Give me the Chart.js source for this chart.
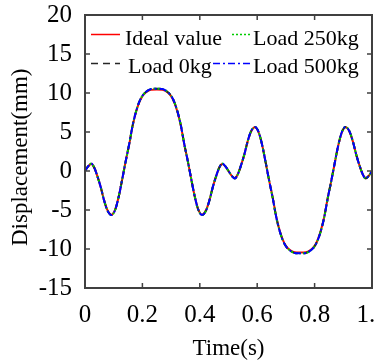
<!DOCTYPE html>
<html>
<head>
<meta charset="utf-8">
<script src="https://cdn.jsdelivr.net/npm/chart.js@4.4.1/dist/chart.umd.min.js"></script>
<style>
  html, body { margin: 0; padding: 0; background: #fff; }
  #wrap { width: 374px; height: 364px; }
</style>
</head>
<body>
<div id="wrap"><canvas id="dispChart"></canvas></div>
<script>
// Tempo (s)
const times = [0, 0.01, 0.022, 0.032, 0.043, 0.055, 0.066, 0.078, 0.092, 0.105,
  0.118, 0.13, 0.142, 0.154, 0.166, 0.178, 0.189, 0.2, 0.213, 0.23,
  0.25, 0.27, 0.287, 0.3, 0.311, 0.322, 0.334, 0.346, 0.358, 0.37,
  0.382, 0.395, 0.408, 0.422, 0.434, 0.445, 0.457, 0.468, 0.478, 0.49,
  0.5, 0.51, 0.522, 0.532, 0.543, 0.555, 0.566, 0.578, 0.592, 0.605,
  0.618, 0.63, 0.642, 0.654, 0.666, 0.678, 0.689, 0.7, 0.713, 0.73,
  0.75, 0.77, 0.787, 0.8, 0.811, 0.822, 0.834, 0.846, 0.858, 0.87,
  0.882, 0.895, 0.908, 0.922, 0.934, 0.945, 0.957, 0.968, 0.978, 0.99, 1];

// Deslocamento (mm)
const idealValue = [0, 0.55, 0.9, 0.45, -0.65, -2.1, -3.7, -5.0, -5.6, -4.95,
  -3.2, -1.0, 1.3, 3.4, 5.8, 7.6, 8.8, 9.6, 10.1, 10.4,
  10.45, 10.4, 10.1, 9.6, 8.8, 7.6, 5.8, 3.4, 1.3, -1.0,
  -3.2, -4.95, -5.6, -5.0, -3.7, -2.1, -0.65, 0.45, 0.9, 0.55,
  0, -0.55, -0.9, -0.45, 0.65, 2.1, 3.7, 5.0, 5.6, 4.95,
  3.2, 1.0, -1.3, -3.4, -5.8, -7.6, -8.8, -9.6, -10.1, -10.4,
  -10.45, -10.4, -10.1, -9.6, -8.8, -7.6, -5.8, -3.4, -1.3, 1.0,
  3.2, 4.95, 5.6, 5.0, 3.7, 2.1, 0.65, -0.45, -0.9, -0.55, 0];

const load0kg = [0, 0.55, 0.95, 0.45, -0.65, -2.1, -3.7, -5.05, -5.65, -5.0,
  -3.2, -1.0, 1.3, 3.45, 5.85, 7.65, 8.85, 9.65, 10.15, 10.5,
  10.55, 10.5, 10.15, 9.65, 8.85, 7.65, 5.85, 3.45, 1.3, -1.0,
  -3.2, -5.0, -5.65, -5.05, -3.7, -2.1, -0.65, 0.45, 0.95, 0.55,
  0, -0.55, -0.95, -0.45, 0.65, 2.1, 3.7, 5.05, 5.65, 5.0,
  3.2, 1.0, -1.3, -3.45, -5.85, -7.65, -8.85, -9.65, -10.15, -10.5,
  -10.55, -10.5, -10.15, -9.65, -8.85, -7.65, -5.85, -3.45, -1.3, 1.0,
  3.2, 5.0, 5.65, 5.05, 3.7, 2.1, 0.65, -0.45, -0.95, -0.55, 0];

const load250kg = [0, 0.55, 0.95, 0.45, -0.65, -2.1, -3.7, -5.05, -5.65, -5.0,
  -3.2, -1.0, 1.3, 3.45, 5.85, 7.65, 8.85, 9.65, 10.15, 10.5,
  10.55, 10.5, 10.15, 9.65, 8.85, 7.65, 5.85, 3.45, 1.3, -1.0,
  -3.2, -5.0, -5.65, -5.05, -3.7, -2.1, -0.65, 0.45, 0.95, 0.55,
  0, -0.55, -0.95, -0.45, 0.65, 2.1, 3.7, 5.05, 5.65, 5.0,
  3.2, 1.0, -1.3, -3.45, -5.85, -7.65, -8.85, -9.65, -10.15, -10.5,
  -10.55, -10.5, -10.15, -9.65, -8.85, -7.65, -5.85, -3.45, -1.3, 1.0,
  3.2, 5.0, 5.65, 5.05, 3.7, 2.1, 0.65, -0.45, -0.95, -0.55, 0];

const load500kg = [0, 0.55, 0.95, 0.45, -0.65, -2.1, -3.7, -5.05, -5.65, -5.0,
  -3.2, -1.0, 1.3, 3.45, 5.85, 7.65, 8.85, 9.65, 10.15, 10.5,
  10.55, 10.5, 10.15, 9.65, 8.85, 7.65, 5.85, 3.45, 1.3, -1.0,
  -3.2, -5.0, -5.65, -5.05, -3.7, -2.1, -0.65, 0.45, 0.95, 0.55,
  0, -0.55, -0.95, -0.45, 0.65, 2.1, 3.7, 5.05, 5.65, 5.0,
  3.2, 1.0, -1.3, -3.45, -5.85, -7.65, -8.85, -9.65, -10.15, -10.5,
  -10.55, -10.5, -10.15, -9.65, -8.85, -7.65, -5.85, -3.45, -1.3, 1.0,
  3.2, 5.0, 5.65, 5.05, 3.7, 2.1, 0.65, -0.45, -0.95, -0.55, 0];

const xTicks = [0, 0.2, 0.4, 0.6, 0.8, 1];
const yTicks = [-15, -10, -5, 0, 5, 10, 15, 20];

const seriesNames = ['Ideal value', 'Load 0kg', 'Load 250kg', 'Load 500kg'];
const seriesColors = ['#ff0000', '#262626', '#00cc00', '#0000ff'];
const seriesDash = [[], [7, 5], [2, 2], [7, 3, 2, 3]];

const serif = "'Liberation Serif', 'Times New Roman', serif";
const axisColor = '#404040';

function toPoints(values) {
    return values.map((v, i) => ({ x: times[i], y: v }));
}

// moldura com ticks para dentro, estilo MATLAB
const frameTicks = {
    id: 'frameTicks',
    afterDatasetsDraw(chart) {
        const ctx = chart.ctx;
        const a = chart.chartArea;
        const xs = chart.scales.x;
        const ys = chart.scales.y;
        const len = 5;
        ctx.save();
        ctx.strokeStyle = axisColor;
        ctx.lineWidth = 2;
        ctx.strokeRect(a.left, a.top, a.right - a.left, a.bottom - a.top);
        ctx.lineWidth = 1.5;
        ctx.beginPath();
        xs.ticks.forEach(t => {
            const px = xs.getPixelForValue(t.value);
            ctx.moveTo(px, a.bottom); ctx.lineTo(px, a.bottom - len);
            ctx.moveTo(px, a.top); ctx.lineTo(px, a.top + len);
        });
        ys.ticks.forEach(t => {
            const py = ys.getPixelForValue(t.value);
            ctx.moveTo(a.left, py); ctx.lineTo(a.left + len, py);
            ctx.moveTo(a.right, py); ctx.lineTo(a.right - len, py);
        });
        ctx.stroke();
        ctx.restore();
    }
};

// legenda 2x2 dentro do gráfico
const innerLegend = {
    id: 'innerLegend',
    afterDraw(chart) {
        const ctx = chart.ctx;
        const a = chart.chartArea;
        // [linhaInicio, linhaFim, textoX, linhaY, baseline]
        const items = [
            [6, 35, 40, 19.5, 30],
            [6, 35, 43, 48.5, 58],
            [147, 165, 168, 19.5, 30],
            [128, 165, 168, 48.5, 58]
        ];
        ctx.save();
        ctx.font = '22px ' + serif;
        ctx.textBaseline = 'alphabetic';
        ctx.textAlign = 'left';
        items.forEach((it, i) => {
            ctx.strokeStyle = seriesColors[i];
            ctx.lineWidth = 1.5;
            ctx.setLineDash(seriesDash[i]);
            ctx.beginPath();
            ctx.moveTo(a.left + it[0], a.top + it[3]);
            ctx.lineTo(a.left + it[1], a.top + it[3]);
            ctx.stroke();
            ctx.setLineDash([]);
            ctx.fillStyle = '#000';
            ctx.fillText(seriesNames[i], a.left + it[2], a.top + it[4]);
        });
        ctx.restore();
    }
};

const allSeries = [idealValue, load0kg, load250kg, load500kg];

const chart = new Chart(document.getElementById('dispChart').getContext('2d'), {
    type: 'line',
    data: {
        datasets: allSeries.map((vals, i) => ({
            label: seriesNames[i],
            data: toPoints(vals),
            borderColor: seriesColors[i],
            borderWidth: 2,
            borderDash: seriesDash[i],
            pointRadius: 0,
            fill: false,
            cubicInterpolationMode: 'monotone',
            order: 3 - i
        }))
    },
    options: {
        responsive: true,
        maintainAspectRatio: false,
        animation: false,
        layout: { padding: { top: 15, right: 2, left: 0, bottom: 0 } },
        plugins: { legend: { display: false }, tooltip: { enabled: false } },
        scales: {
            x: {
                type: 'linear',
                min: 0,
                max: 1,
                afterBuildTicks: s => { s.ticks = xTicks.map(v => ({ value: v })); },
                ticks: { font: { family: serif, size: 25 }, color: '#000', padding: 12, maxRotation: 0 },
                grid: { display: false, drawTicks: false },
                border: { display: false },
                title: { display: true, text: 'Time(s)', color: '#000', font: { family: serif, size: 23 }, padding: { top: 0, bottom: 1 } },
                afterFit: s => { s.height = 76; s.paddingLeft = 0; s.paddingRight = 0; }
            },
            y: {
                min: -15,
                max: 20,
                afterBuildTicks: s => { s.ticks = yTicks.map(v => ({ value: v })); },
                ticks: { font: { family: serif, size: 25 }, color: '#000', padding: 13 },
                grid: { display: false, drawTicks: false },
                border: { display: false },
                // espaços no fim empurram o título um pouco para baixo, como no original
                title: { display: true, text: 'Displacement(mm)  ', color: '#000', font: { family: serif, size: 23 }, padding: { top: 7, bottom: 0 } },
                afterFit: s => { s.width = 85; s.paddingTop = 0; s.paddingBottom = 0; }
            }
        }
    },
    plugins: [frameTicks, innerLegend]
});
</script>
</body>
</html>
